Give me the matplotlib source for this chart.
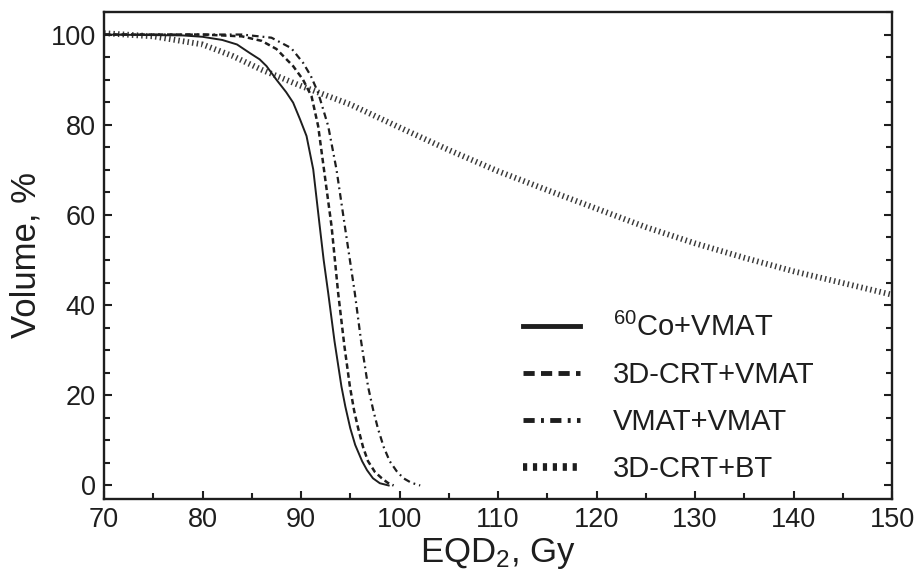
import numpy as np
import matplotlib
matplotlib.use('Agg')
import matplotlib.pyplot as plt
from matplotlib.lines import Line2D
from matplotlib.ticker import MultipleLocator

plt.rcParams['font.family'] = ['Liberation Sans', 'DejaVu Sans']
plt.rcParams['mathtext.fontset'] = 'custom'
plt.rcParams['mathtext.rm'] = 'Liberation Sans'
plt.rcParams['mathtext.it'] = 'Liberation Sans'

# 60Co+VMAT
co_x = [70, 78, 80, 82, 83.5, 84.8, 85.8, 86.5, 87.5, 88.5, 89.2, 89.9, 90.56, 91.24, 91.9, 92.3,
        92.76, 93.4, 94.1, 94.5, 95, 95.5, 96.2, 96.7, 97.3, 98, 98.9]
co_y = [100, 99.8, 99.5, 98.8, 97.8, 95.9, 94.5, 93.0, 90.0, 87.2, 84.9, 81.2, 77.5, 70.1, 57.5, 50,
        42.7, 32, 22, 17.5, 12.7, 9.0, 5.4, 3.4, 1.6, 0.5, 0]

# 3D-CRT+VMAT
crt_x = [70, 80, 84, 86, 87.5, 89.2, 90.2, 91.07, 91.74, 92.42, 93.1, 93.77, 94.4, 94.96,
         95.4, 95.8, 96.3, 96.8, 97.5, 98.2, 98.8, 99.4]
crt_y = [100, 100, 99.6, 98.6, 96.8, 93.0, 90.0, 86.3, 79.7, 68.6, 57.5, 42.7, 31, 22,
         16.5, 12.7, 8.5, 5.4, 3.0, 1.6, 0.6, 0]

# VMAT+VMAT
vm_x = [70, 84, 87, 89, 90.22, 91, 91.74, 92.76, 93.6, 94.45, 95.46, 96.1, 96.8, 97.3,
        97.8, 98.4, 99, 99.7, 100.4, 101.2, 102.1]
vm_y = [100, 100, 99.3, 97, 93.7, 90.8, 87.1, 79.7, 70.1, 57.5, 42.7, 32, 22, 17,
        12.7, 8.5, 5.4, 3.2, 1.6, 0.6, 0]

# 3D-CRT+BT
bt_x = [70, 75, 80, 83, 86, 90, 95, 100, 105, 110, 115, 120, 125, 130, 135, 140, 145, 150]
bt_y = [100.3, 99.6, 97.8, 95.3, 92.2, 88.6, 84.5, 79.4, 74.4, 69.7, 65.5, 61.4, 57.3, 53.7, 50.5, 47.5, 44.9, 42.3]

labels = ['$^{60}$Co+VMAT', '3D-CRT+VMAT', 'VMAT+VMAT', '3D-CRT+BT']
ink = '#1e1e1e'

fig = plt.figure(figsize=(9.18, 5.85), dpi=100)
ax = fig.add_axes([0.1133, 0.147, 0.8584, 0.8325])

ax.plot(bt_x, bt_y, color='#3a3a3a', lw=4.2, dashes=(0.25, 0.55), dash_capstyle='butt')
ax.plot(co_x, co_y, color=ink, lw=1.4)
ax.plot(crt_x, crt_y, color=ink, lw=1.8, dashes=(2.2, 1.4))
ax.plot(vm_x, vm_y, color=ink, lw=1.6, dashes=(3.0, 1.8, 0.8, 1.8))

ax.set_xlim(70, 150)
ax.set_ylim(-3, 105)
ax.xaxis.set_major_locator(MultipleLocator(10))
ax.xaxis.set_minor_locator(MultipleLocator(5))
ax.yaxis.set_major_locator(MultipleLocator(20))
ax.yaxis.set_minor_locator(MultipleLocator(5))
ax.tick_params(which='both', direction='in', right=True, top=False, width=1.5, color=ink,
               labelsize=19.5, labelcolor=ink)
ax.tick_params(which='major', length=6, pad=6)
ax.tick_params(which='minor', length=4)
for s in ax.spines.values():
    s.set_linewidth(1.7)
    s.set_color(ink)

ax.set_xlabel('EQD$_2$, Gy', fontsize=25, color=ink, labelpad=2)
ax.set_ylabel('Volume, %', fontsize=25, color=ink, labelpad=6)

handles = [
    Line2D([], [], color=ink, lw=3.5),
    Line2D([], [], color=ink, lw=3.5, dashes=(2.3, 1.3)),
    Line2D([], [], color=ink, lw=3.5, dashes=(2.3, 1.3, 0.6, 1.3)),
    Line2D([], [], color=ink, lw=5.5, dashes=(0.55, 0.75), dash_capstyle='butt'),
]
ax.legend(handles, labels, loc='lower left', bbox_to_anchor=(0.532, 0.033), frameon=False,
          fontsize=21, handlelength=1.95, handletextpad=1.13, labelspacing=0.65,
          borderpad=0, borderaxespad=0, labelcolor=ink)

fig.savefig('out.png', dpi=100)
